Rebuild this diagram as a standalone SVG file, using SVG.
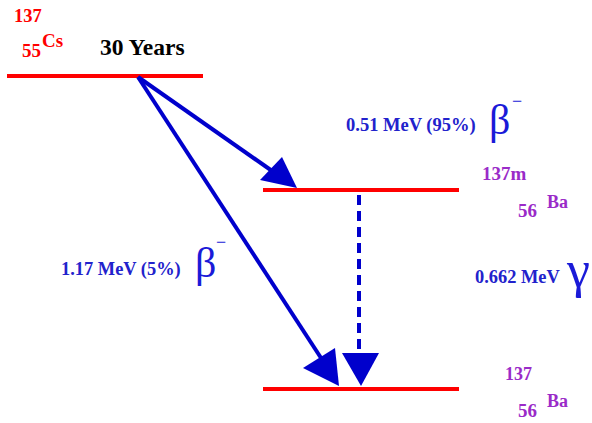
<svg xmlns="http://www.w3.org/2000/svg" width="592" height="423" viewBox="0 0 592 423">
<style>
.lvl{stroke:#ff0000;stroke-width:4;fill:none}
.arr{stroke:#0000cc;stroke-width:4;fill:none}
.head{fill:#0000cc}
.t{font-family:"Liberation Serif",serif;font-weight:bold}
.red{fill:#ff0000}
.pur{fill:#9a2bc8}
.blu{fill:#2222cc}
.greek{font-family:"Liberation Serif",serif;fill:#1a1ad8}
</style>
<rect width="592" height="423" fill="#ffffff"/>
<g id="cs137">
<line class="lvl" x1="7" y1="76" x2="203" y2="76"/>
<text class="t red" x="14" y="22" font-size="18.5">137</text>
<text class="t red" x="22" y="57" font-size="19">55</text>
<text class="t red" x="42" y="47" font-size="19">Cs</text>
<text class="t" x="100" y="55" font-size="23.5" fill="#000">30 Years</text>
</g>
<g id="ba137m">
<line class="lvl" x1="263" y1="190" x2="459" y2="190"/>
<text class="t pur" x="482" y="180" font-size="19">137m</text>
<text class="t pur" x="518" y="217" font-size="19">56</text>
<text class="t pur" x="547" y="208" font-size="18">Ba</text>
</g>
<g id="ba137">
<line class="lvl" x1="263" y1="389" x2="459" y2="389"/>
<text class="t pur" x="505" y="380" font-size="18">137</text>
<text class="t pur" x="518" y="417" font-size="19">56</text>
<text class="t pur" x="547" y="407" font-size="18">Ba</text>
</g>
<g id="connectors">
<line class="arr" x1="138" y1="77" x2="275" y2="173"/>
<polygon class="head" points="297,188 260,180 282,157"/>
<line class="arr" x1="138" y1="77" x2="323" y2="361"/>
<polygon class="head" points="339,386 303,368 335,348"/>
<line class="arr" x1="359" y1="195" x2="359" y2="356" stroke-dasharray="10,6"/>
<polygon class="head" points="342,353 379,353 361,386"/>
</g>
<g id="labels">
<text class="t blu" x="346" y="131" font-size="18.5">0.51 MeV (95%)</text>
<text class="greek" x="489" y="134" font-size="42">β</text>
<text class="greek" x="512" y="107" font-size="18">−</text>
<text class="t blu" x="61" y="275" font-size="18.4">1.17 MeV (5%)</text>
<text class="greek" x="195" y="277" font-size="42">β</text>
<text class="greek" x="216" y="248" font-size="18">−</text>
<text class="t blu" x="475" y="283" font-size="18.4">0.662 MeV</text>
<text class="greek" x="567" y="287" font-size="52">γ</text>
</g>
</svg>
